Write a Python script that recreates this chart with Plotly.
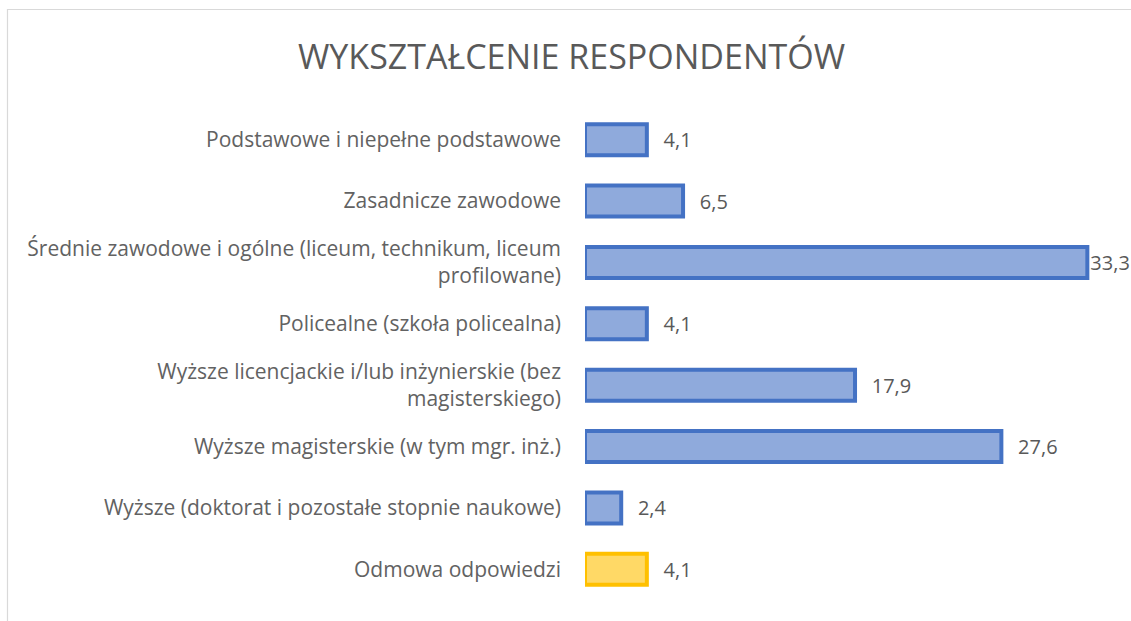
import plotly.graph_objects as go

categories = [
    "Podstawowe i niepełne podstawowe",
    "Zasadnicze zawodowe",
    "Średnie zawodowe i ogólne (liceum, technikum, liceum<br>profilowane)",
    "Policealne (szkoła policealna)",
    "Wyższe licencjackie i/lub inżynierskie (bez<br>magisterskiego)",
    "Wyższe magisterskie (w tym mgr. inż.)",
    "Wyższe (doktorat i pozostałe stopnie naukowe)",
    "Odmowa odpowiedzi",
]
values = [4.1, 6.5, 33.3, 4.1, 17.9, 27.6, 2.4, 4.1]
refusal_index = 7

W, H = 1131, 621
ML, MR, MT, MB = 585, 18, 109, 21
PW, PH = W - ML - MR, H - MT - MB

fills = ["#ffd966" if i == refusal_index else "#8faadc" for i in range(len(values))]
lines = ["#ffc000" if i == refusal_index else "#4472c4" for i in range(len(values))]
vmax = max(values)
templates = ["%{x:.1f}" if v == vmax else "\u00a0\u00a0\u2009%{x:.1f}" for v in values]

fig = go.Figure(
    go.Bar(
        x=values,
        y=categories,
        orientation="h",
        marker=dict(color=fills, line=dict(color=lines, width=4)),
        texttemplate=templates,
        textposition="outside",
        textfont=dict(family="Open Sans", size=20, color="#595959"),
        cliponaxis=False,
        hoverinfo="skip",
    )
)

def px_to_paper_x(px):
    return (px - ML) / PW

def px_to_paper_y(py):
    return (H - MB - py) / PH

fig.add_shape(
    type="rect", xref="paper", yref="paper",
    x0=px_to_paper_x(7.5), x1=px_to_paper_x(W + 20),
    y0=px_to_paper_y(H + 20), y1=px_to_paper_y(9.5),
    line=dict(color="#d9d9d9", width=1.2), fillcolor="rgba(0,0,0,0)", layer="below",
)

fig.update_layout(
    width=W, height=H,
    margin=dict(l=ML, r=MR, t=MT, b=MB, pad=0),
    paper_bgcolor="white", plot_bgcolor="white",
    separators=", ",
    bargap=0.495,
    showlegend=False,
    title=dict(
        text="WYKSZTAŁCENIE RESPONDENTÓW",
        font=dict(family="Open Sans", size=34, color="#595959"),
        x=571.5 / W, xanchor="center", xref="container",
        y=1 - 57 / H, yanchor="middle", yref="container",
    ),
    xaxis=dict(range=[0, 35], visible=False, fixedrange=True),
    yaxis=dict(
        autorange="reversed",
        showline=False, showgrid=False, zeroline=False, ticks="",
        tickfont=dict(family="Open Sans", size=21, color="#626262"),
        ticklabelstandoff=23,
    ),
)

fig.write_html(
    "out.html",
    config={"displayModeBar": False},
    post_script="document.body.style.margin='0px';document.body.style.overflow='hidden';",
)
